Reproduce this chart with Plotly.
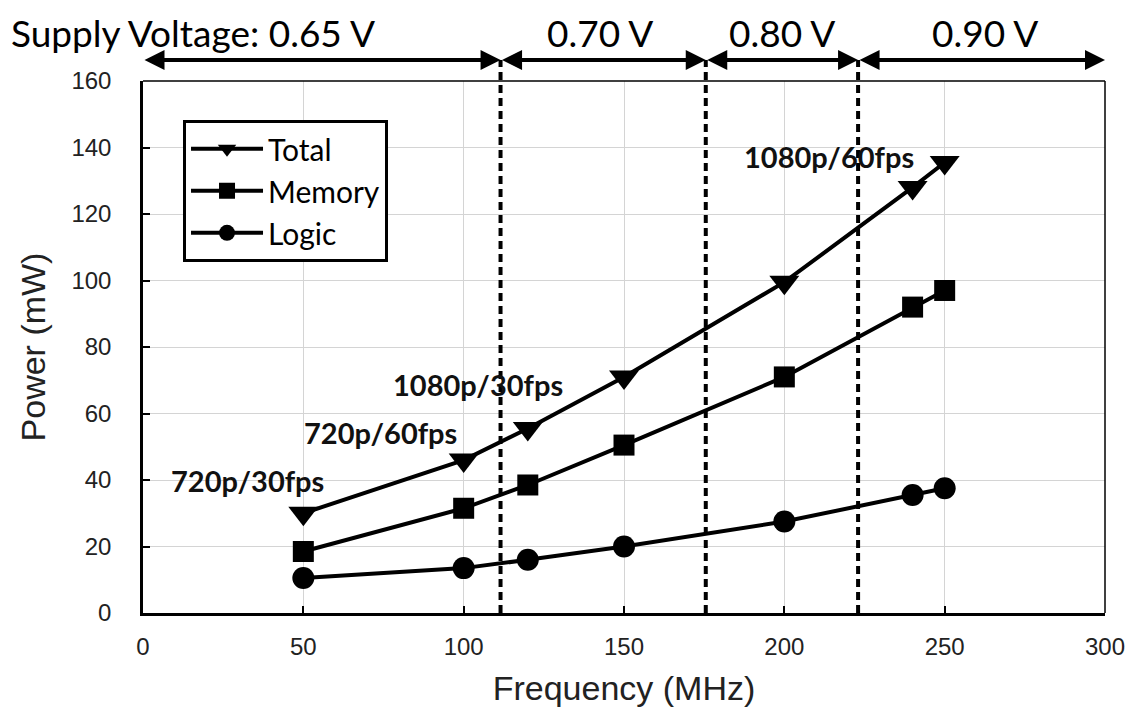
import plotly.graph_objects as go

freq = [50, 100, 120, 150, 200, 240, 250]
total = [30, 46, 55.5, 71, 99.5, 128, 135.5]
memory = [18.5, 31.5, 38.5, 50.5, 71, 92, 97]
logic = [10.5, 13.5, 16, 20, 27.5, 35.5, 37.5]

voltage_bounds = [0, 111.5, 175.5, 223, 300]
voltage_labels = ["0.70 V", "0.80 V", "0.90 V"]
voltage_label_x = [142.5, 199.3, 262.5]
first_label = "Supply Voltage: 0.65 V"

mode_labels = ["720p/30fps", "720p/60fps", "1080p/30fps", "1080p/60fps"]
mode_x = [32.6, 74, 104.5, 214]
mode_y = [40, 54.2, 68.7, 137.3]

fig = go.Figure()
lw = 4
fig.add_trace(go.Scatter(x=freq, y=total, name="Total", mode="lines+markers",
                         line=dict(color="black", width=lw),
                         marker=dict(symbol="triangle-down", size=26, color="black")))
fig.add_trace(go.Scatter(x=freq, y=memory, name="Memory", mode="lines+markers",
                         line=dict(color="black", width=lw),
                         marker=dict(symbol="square", size=21, color="black")))
fig.add_trace(go.Scatter(x=freq, y=logic, name="Logic", mode="lines+markers",
                         line=dict(color="black", width=lw),
                         marker=dict(symbol="circle", size=22, color="black")))

ytop = 1.0395
# dashed voltage boundaries
for b in voltage_bounds[1:-1]:
    fig.add_shape(type="line", xref="x", yref="paper", x0=b, x1=b, y0=0, y1=ytop,
                  line=dict(color="black", width=4, dash="8px,5px"))
# double arrows
for a, b in zip(voltage_bounds[:-1], voltage_bounds[1:]):
    fig.add_annotation(xref="x", yref="paper", axref="x", ayref="pixel",
                       x=b, y=ytop, ax=a, ay=0, text="", showarrow=True,
                       arrowhead=2, arrowside="end+start", arrowsize=1.0,
                       arrowwidth=4, arrowcolor="black", standoff=0, startstandoff=0)
# voltage labels
label_y = 1.092
fig.add_annotation(xref="paper", yref="paper", x=-0.139, y=label_y, text=first_label,
                   showarrow=False, xanchor="left", yanchor="middle",
                   font=dict(family="Lato", size=37, color="black"))
for t, xv in zip(voltage_labels, voltage_label_x):
    fig.add_annotation(xref="x", yref="paper", x=xv, y=label_y, text=t, showarrow=False,
                       font=dict(family="Lato", size=37, color="black"), yanchor="middle")
# mode labels
for t, xv, yv in zip(mode_labels, mode_x, mode_y):
    fig.add_annotation(x=xv, y=yv, text="<b>%s</b>" % t, showarrow=False,
                       font=dict(family="Lato", size=29, color="#111"))

# thin top/right frame
fig.add_shape(type="line", xref="paper", yref="paper", x0=0, x1=1, y0=1, y1=1,
              line=dict(color="black", width=1.5))
fig.add_shape(type="line", xref="paper", yref="paper", x0=1, x1=1, y0=0, y1=1,
              line=dict(color="black", width=1.5))

axfont = dict(family="Arial", size=24, color="#222")
titlefont = dict(family="Arial", size=34, color="#222")
fig.update_layout(
    width=1129, height=703,
    margin=dict(l=135, r=32, t=73, b=98, autoexpand=False),
    plot_bgcolor="white", paper_bgcolor="white",
    showlegend=True,
    legend=dict(x=0.0416, y=0.927, xanchor="left", yanchor="top",
                bordercolor="black", borderwidth=3, bgcolor="white",
                font=dict(family="Lato", size=30, color="black"),
                itemwidth=72, tracegroupgap=0),
    xaxis=dict(range=[0, 300], dtick=50, showgrid=True, gridcolor="#d4d4d4", gridwidth=1,
               showline=True, linecolor="black", linewidth=2.5, ticks="inside",
               ticklen=7, tickwidth=2, tickcolor="black", tickfont=axfont, zeroline=False,
               ticklabelstandoff=10,
               title=dict(text="Frequency (MHz)", font=titlefont, standoff=18)),
    yaxis=dict(range=[0, 160], dtick=20, showgrid=True, gridcolor="#d4d4d4", gridwidth=1,
               showline=True, linecolor="black", linewidth=2.5, ticks="inside",
               ticklen=7, tickwidth=2, tickcolor="black", tickfont=axfont, zeroline=False,
               ticklabelstandoff=24,
               title=dict(text="Power (mW)", font=titlefont, standoff=16)),
)
fig.write_html("out.html")
